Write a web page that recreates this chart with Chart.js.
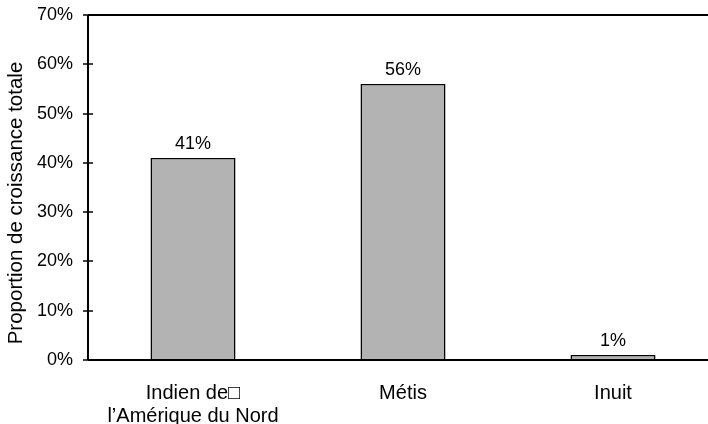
<!DOCTYPE html>
<html lang="fr">
<head>
<meta charset="utf-8">
<script src="https://cdn.jsdelivr.net/npm/chart.js@4/dist/chart.umd.min.js"></script>
<style>
  html, body { margin: 0; padding: 0; background: #fff; overflow: hidden; width: 708px; height: 424px; }
  #wrap { position: relative; width: 730px; height: 424px; }
</style>
</head>
<body>
<div id="wrap"><canvas id="chart"></canvas></div>
<script>
// Groupes d'identité autochtone et part de la croissance totale (%)
const categories = [["Indien de\u25A1", "l\u2019Am\u00e9rique du Nord"], "M\u00e9tis", "Inuit"];
const shares = [41, 56, 1];
const yTicks = [0, 10, 20, 30, 40, 50, 60, 70];
const yTitle = "Proportion de croissance totale";

const FONT = "'Liberation Sans', Arial, sans-serif";

// Axes, graduations traversantes, ligne du haut, titre vertical et étiquettes de valeur
const decorations = {
  id: 'decorations',
  afterDatasetsDraw(chart) {
    const { ctx, chartArea, scales } = chart;
    const y = scales.y;
    ctx.save();
    ctx.strokeStyle = '#000';
    ctx.lineWidth = 2;
    // axe vertical
    ctx.beginPath();
    ctx.moveTo(chartArea.left, y.getPixelForValue(70));
    ctx.lineTo(chartArea.left, y.getPixelForValue(0));
    ctx.stroke();
    // ligne supérieure
    ctx.beginPath();
    ctx.moveTo(chartArea.left, y.getPixelForValue(70));
    ctx.lineTo(chartArea.right, y.getPixelForValue(70));
    ctx.stroke();
    // axe horizontal
    ctx.beginPath();
    ctx.moveTo(chartArea.left, y.getPixelForValue(0));
    ctx.lineTo(chartArea.right, y.getPixelForValue(0));
    ctx.stroke();
    // graduations
    ctx.lineWidth = 1.5;
    yTicks.forEach(v => {
      const py = Math.round(y.getPixelForValue(v));
      ctx.beginPath();
      ctx.moveTo(chartArea.left - 5, py);
      ctx.lineTo(chartArea.left + 5, py);
      ctx.stroke();
    });
    // étiquettes de valeur
    ctx.fillStyle = '#000';
    ctx.font = '18px ' + FONT;
    ctx.textAlign = 'center';
    ctx.textBaseline = 'alphabetic';
    const meta = chart.getDatasetMeta(0);
    meta.data.forEach((bar, i) => {
      ctx.fillText(shares[i] + '%', bar.x, bar.y - 9);
    });
    // titre de l'axe vertical
    ctx.font = '20.5px ' + FONT;
    ctx.translate(16, 203);
    ctx.rotate(-Math.PI / 2);
    ctx.textBaseline = 'middle';
    ctx.fillText(yTitle, 0, 0);
    ctx.restore();
  }
};

new Chart(document.getElementById('chart'), {
  type: 'bar',
  data: {
    labels: categories,
    datasets: [{
      data: shares,
      backgroundColor: '#b3b3b3',
      borderColor: '#000',
      borderWidth: 1.5,
      barPercentage: 0.405,
      categoryPercentage: 1
    }]
  },
  options: {
    responsive: true,
    maintainAspectRatio: false,
    animation: false,
    devicePixelRatio: 1,
    layout: { padding: { top: 15, right: 12, left: 0, bottom: 0 } },
    plugins: { legend: { display: false }, tooltip: { enabled: false } },
    scales: {
      x: {
        grid: { display: false, drawTicks: false },
        border: { display: false },
        ticks: { color: '#000', font: { family: FONT, size: 20, lineHeight: 1.15 }, padding: 22, maxRotation: 0, autoSkip: false },
        afterFit(scale) { scale.height = 64; scale.paddingLeft = 0; scale.paddingRight = 0; }
      },
      y: {
        min: 0,
        max: 70,
        grid: { display: false, drawTicks: false },
        border: { display: false },
        ticks: {
          stepSize: 10,
          color: '#000',
          font: { family: FONT, size: 18 },
          padding: 15,
          callback: v => v + '%'
        },
        afterFit(scale) { scale.width = 88; scale.paddingTop = 0; scale.paddingBottom = 0; }
      }
    }
  },
  plugins: [decorations]
});
</script>
</body>
</html>
